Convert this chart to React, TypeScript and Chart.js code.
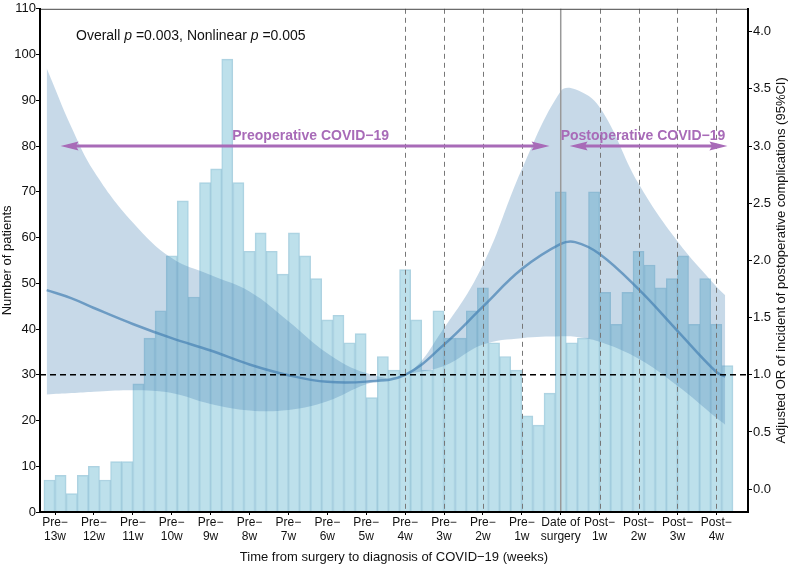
import { useEffect, useRef } from 'react';
import { Chart, registerables } from 'chart.js';

Chart.register(...registerables);

// histogram of patients, 2-day bins (centre day of each bin, relative to surgery)
const binCenters = [
  -92, -90, -88, -86, -84, -82, -80, -78, -76, -74, -72, -70, -68, -66, -64, -62,
  -60, -58, -56, -54, -52, -50, -48, -46, -44, -42, -40, -38, -36, -34, -32, -30,
  -28, -26, -24, -22, -20, -18, -16, -14, -12, -10, -8, -6, -4, -2, 0, 2,
  4, 6, 8, 10, 12, 14, 16, 18, 20, 22, 24, 26, 28, 30,
];
const patientCounts = [
  7, 8, 4, 8, 10, 7, 11, 11, 28, 38, 44, 56, 68, 47, 72, 75,
  99, 72, 57, 61, 57, 52, 61, 56, 51, 42, 43, 37, 39, 25, 34, 31,
  53, 42, 31, 44, 38, 38, 44, 49, 37, 34, 31, 21, 19, 26, 70, 37,
  38, 70, 48, 41, 48, 57, 54, 49, 51, 56, 41, 51, 41, 32,
];

// restricted cubic spline: adjusted OR with 95% CI
const fitDays = [-92.5, -88, -84, -77, -70, -63, -56, -49, -42, -35, -28, -21, -14, -7, 0, 2.6, 7, 14, 21, 28, 29.6];
const orFit = [1.74, 1.668, 1.584, 1.444, 1.32, 1.212, 1.09, 0.996, 0.938, 0.94, 1.0, 1.264, 1.596, 1.924, 2.144, 2.16, 2.056, 1.748, 1.384, 1.024, 0.984];
const orUpper = [3.68, 3.16, 2.78, 2.332, 2.02, 1.872, 1.728, 1.468, 1.188, 1.016, 1.0, 1.408, 1.96, 2.796, 3.48, 3.496, 3.34, 2.672, 2.168, 1.772, 1.696];
const orLower = [0.828, 0.84, 0.852, 0.864, 0.84, 0.744, 0.688, 0.692, 0.768, 0.916, 1.0, 1.076, 1.264, 1.32, 1.336, 1.332, 1.288, 1.14, 0.904, 0.624, 0.564];

// axes
const weekDays = [-91, -84, -77, -70, -63, -56, -49, -42, -35, -28, -21, -14, -7, 0, 7, 14, 21, 28];
const weekLabels = [
  ['Pre−', '13w'], ['Pre−', '12w'], ['Pre−', '11w'], ['Pre−', '10w'], ['Pre−', '9w'], ['Pre−', '8w'],
  ['Pre−', '7w'], ['Pre−', '6w'], ['Pre−', '5w'], ['Pre−', '4w'], ['Pre−', '3w'], ['Pre−', '2w'],
  ['Pre−', '1w'], ['Date of', 'surgery'], ['Post−', '1w'], ['Post−', '2w'], ['Post−', '3w'], ['Post−', '4w'],
];
const countTicks = [0, 10, 20, 30, 40, 50, 60, 70, 80, 90, 100, 110];
const orTicks = [0, 0.5, 1, 1.5, 2, 2.5, 3, 3.5, 4];

const weekLines = [-28, -21, -14, -7, 7, 14, 21, 28];
const surgeryDay = 0;
const orReference = 1;

// annotations
const preopSpan = [-90, -2];
const postopSpan = [1.6, 30];
const FONT = "'Liberation Sans', Arial, sans-serif";
const PURPLE = '#a86bb8';

const overlayPlugin = {
  id: 'overlay',
  afterDatasetsDraw(chart: any) {
    const { ctx, chartArea: a, scales } = chart;
    const x = scales.x, y = scales.y, y2 = scales.y2;
    ctx.save();

    ctx.strokeStyle = '#777';
    ctx.lineWidth = 1;
    ctx.setLineDash([5, 4]);
    weekLines.forEach((d) => {
      const px = Math.round(x.getPixelForValue(d)) + 0.5;
      ctx.beginPath();
      ctx.moveTo(px, a.top);
      ctx.lineTo(px, a.bottom);
      ctx.stroke();
    });

    ctx.setLineDash([]);
    ctx.strokeStyle = '#999';
    ctx.lineWidth = 1.5;
    const sx = x.getPixelForValue(surgeryDay);
    ctx.beginPath();
    ctx.moveTo(sx, a.top);
    ctx.lineTo(sx, a.bottom);
    ctx.stroke();

    ctx.strokeStyle = '#000';
    ctx.lineWidth = 1.5;
    ctx.setLineDash([6, 4]);
    const ry = y2.getPixelForValue(orReference);
    ctx.beginPath();
    ctx.moveTo(a.left, ry);
    ctx.lineTo(a.right, ry);
    ctx.stroke();
    ctx.setLineDash([]);

    // arrows
    const ay = y.getPixelForValue(80);
    const drawArrow = (d1: number, d2: number) => {
      const x1 = x.getPixelForValue(d1);
      const x2 = x.getPixelForValue(d2);
      const len = 18, hw = 4.5;
      ctx.strokeStyle = PURPLE;
      ctx.fillStyle = PURPLE;
      ctx.lineWidth = 3;
      ctx.beginPath();
      ctx.moveTo(x1 + len * 0.7, ay);
      ctx.lineTo(x2 - len * 0.7, ay);
      ctx.stroke();
      [[x1, 1], [x2, -1]].forEach(([tx, dir]) => {
        ctx.beginPath();
        ctx.moveTo(tx, ay);
        ctx.lineTo(tx + dir * len, ay - hw);
        ctx.lineTo(tx + dir * len * 0.85, ay);
        ctx.lineTo(tx + dir * len, ay + hw);
        ctx.closePath();
        ctx.fill();
      });
    };
    drawArrow(preopSpan[0], preopSpan[1]);
    drawArrow(postopSpan[0], postopSpan[1]);

    ctx.fillStyle = PURPLE;
    ctx.font = `bold 14px ${FONT}`;
    ctx.textAlign = 'center';
    ctx.textBaseline = 'alphabetic';
    ctx.fillText('Preoperative COVID−19', x.getPixelForValue(-45), ay - 6);
    ctx.fillText('Postoperative COVID−19', x.getPixelForValue(14.8), ay - 6);

    // p-values
    const parts: [string, boolean][] = [
      ['Overall ', false], ['p', true], [' =0.003, Nonlinear ', false], ['p', true], [' =0.005', false],
    ];
    let tx = 76;
    const ty = 40;
    ctx.fillStyle = '#111';
    ctx.textAlign = 'left';
    parts.forEach(([s, it]) => {
      ctx.font = `${it ? 'italic ' : ''}14px ${FONT}`;
      ctx.fillText(s, tx, ty);
      tx += ctx.measureText(s).width;
    });

    // top frame
    ctx.strokeStyle = '#444';
    ctx.lineWidth = 1;
    ctx.beginPath();
    ctx.moveTo(a.left, a.top + 0.5);
    ctx.lineTo(a.right, a.top + 0.5);
    ctx.stroke();

    // right axis title, reading upwards
    ctx.translate(781, (a.top + a.bottom) / 2);
    ctx.rotate(-Math.PI / 2);
    ctx.fillStyle = '#111';
    ctx.font = `13px ${FONT}`;
    ctx.textAlign = 'center';
    ctx.textBaseline = 'middle';
    ctx.fillText('Adjusted OR of incident of postoperative complications (95%CI)', 0, 0);
    ctx.restore();
  },
};

export default function App() {
  const chartRef = useRef<HTMLCanvasElement>(null);

  useEffect(() => {
    if (!chartRef.current) return;
    Chart.defaults.font.family = FONT;
    Chart.defaults.color = '#111';

    const pts = (vals: number[]) => fitDays.map((d, i) => ({ x: d, y: vals[i] }));
    const smooth = { pointRadius: 0, tension: 0.4, yAxisID: 'y2' };

    const chart = new Chart(chartRef.current, {
      type: 'bar',
      data: {
        datasets: [
          {
            type: 'line',
            data: pts(orFit),
            ...smooth,
            borderColor: 'rgba(70,130,180,0.7)',
            borderWidth: 2.5,
            fill: false,
            order: 1,
          },
          {
            type: 'line',
            data: pts(orUpper),
            ...smooth,
            borderWidth: 0,
            borderColor: 'rgba(0,0,0,0)',
            fill: false,
            order: 2,
          },
          {
            type: 'line',
            data: pts(orLower),
            ...smooth,
            borderWidth: 0,
            borderColor: 'rgba(0,0,0,0)',
            backgroundColor: 'rgba(70,130,180,0.3)',
            fill: '-1',
            order: 2,
          },
          {
            type: 'bar',
            data: binCenters.map((d, i) => ({ x: d, y: patientCounts[i] })),
            yAxisID: 'y',
            backgroundColor: 'rgba(173,216,230,0.8)',
            borderColor: 'rgba(120,180,205,0.6)',
            borderWidth: 1,
            barPercentage: 1,
            categoryPercentage: 1,
            order: 3,
          },
        ],
      } as any,
      options: {
        animation: false,
        responsive: true,
        maintainAspectRatio: false,
        layout: { padding: { top: 5, left: 0, right: 0, bottom: 0 } },
        plugins: { legend: { display: false }, tooltip: { enabled: false } },
        scales: {
          x: {
            type: 'linear',
            min: -93.7,
            max: 33.7,
            offset: false,
            afterBuildTicks: (s: any) => {
              s.ticks = weekDays.map((v) => ({ value: v }));
            },
            afterFit: (s: any) => {
              s.height = 54;
            },
            ticks: {
              autoSkip: false,
              maxRotation: 0,
              padding: 1,
              font: { size: 12, lineHeight: 1.15 },
              callback: (_v: any, i: number) => weekLabels[i],
            },
            grid: { offset: false, drawOnChartArea: false, color: '#000', tickLength: 3 },
            border: { color: '#000', width: 2, z: 1 },
            title: {
              display: true,
              text: 'Time from surgery to diagnosis of COVID−19 (weeks)',
              font: { size: 13 },
              padding: { top: 0, bottom: 1 },
            },
          },
          y: {
            position: 'left',
            min: 0,
            max: 110,
            afterBuildTicks: (s: any) => {
              s.ticks = countTicks.map((v) => ({ value: v }));
            },
            afterFit: (s: any) => {
              s.width = 40;
            },
            ticks: { padding: 0, font: { size: 13 } },
            grid: { drawOnChartArea: false, color: '#000', tickLength: 4 },
            border: { color: '#000', width: 2, z: 1 },
            title: {
              display: true,
              text: 'Number of patients',
              font: { size: 13 },
              padding: { top: 0, bottom: 0 },
            },
          },
          y2: {
            position: 'right',
            min: -0.2,
            max: 4.2,
            afterBuildTicks: (s: any) => {
              s.ticks = orTicks.map((v) => ({ value: v }));
            },
            afterFit: (s: any) => {
              s.width = 42;
            },
            ticks: { padding: 1, font: { size: 13 }, callback: (v: any) => Number(v).toFixed(1) },
            grid: { drawOnChartArea: false, color: '#000', tickLength: 4 },
            border: { color: '#000', width: 2, z: 1 },
          },
        },
      } as any,
      plugins: [overlayPlugin],
    });

    return () => {
      chart.destroy();
    };
  }, []);

  return (
    <div style={{ position: 'fixed', left: 0, top: 0, width: 790, height: 566, background: '#fff' }}>
      <canvas ref={chartRef} />
    </div>
  );
}
